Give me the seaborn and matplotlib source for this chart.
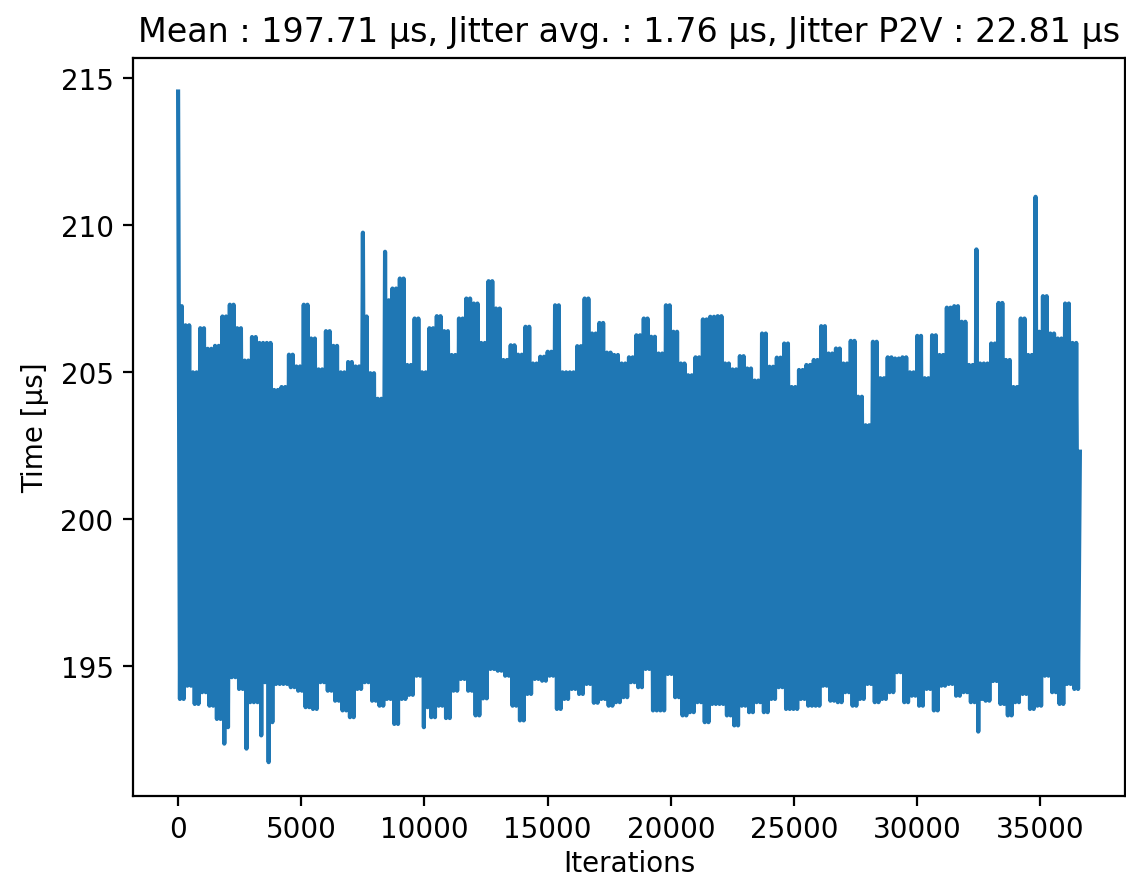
import numpy as np
import pandas as pd
import matplotlib
matplotlib.use("Agg")
import matplotlib.pyplot as plt
import seaborn as sns

# ---- data (per 300-iteration bin: upper / lower envelope) ----
bin_size = 300
n_iterations = 36600

upper = [207.25, 206.6, 205.0, 206.5, 205.8, 205.9, 206.9, 207.3, 206.5, 205.4,
         206.2, 206.0, 206.0, 204.4, 204.5, 205.6, 205.2, 207.3, 206.15, 205.1,
         206.4, 205.9, 205.0, 205.35, 205.2, 206.9, 204.97, 204.1, 207.45, 207.85,
         208.19, 205.25, 206.83, 205.0, 206.5, 206.91, 206.4, 205.59, 206.83, 207.51,
         207.34, 206.0, 208.1, 207.17, 205.42, 205.92, 205.6, 206.55, 205.3, 205.53,
         205.7, 207.28, 205.0, 205.0, 205.89, 207.51, 206.32, 206.68, 205.67, 205.59,
         205.3, 205.51, 206.26, 206.83, 206.21, 205.64, 207.28, 206.38, 205.3, 204.9,
         205.51, 206.8, 206.89, 206.91, 205.3, 205.1, 205.55, 205.13, 204.72, 206.32,
         205.19, 205.5, 205.98, 204.5, 205.08, 205.25, 205.42, 206.57, 205.64, 205.81,
         205.3, 206.07, 204.17, 203.2, 206.04, 204.8, 205.51, 205.47, 205.51, 205.0,
         206.24, 204.8, 206.26, 205.59, 207.2, 207.25, 206.72, 205.25, 205.3, 205.3,
         205.98, 207.36, 205.42, 204.5, 206.83, 205.59, 206.38, 207.59, 206.32, 206.15,
         207.34, 206.0]

lower = [193.89, 194.34, 193.72, 194.12, 193.66, 193.21, 192.93, 194.63, 194.23, 193.78,
         193.78, 194.46, 193.1, 194.4, 194.4, 194.29, 194.17, 193.61, 193.55, 194.46,
         194.17, 193.83, 193.5, 193.27, 194.23, 194.46, 193.83, 193.66, 193.89, 193.04,
         193.89, 194.03, 194.68, 193.61, 193.27, 193.66, 193.24, 194.17, 194.57, 194.17,
         193.33, 193.91, 194.91, 194.85, 194.68, 193.66, 193.16, 194.06, 194.57, 194.51,
         194.68, 193.55, 193.89, 194.23, 194.06, 194.4, 193.76, 193.89, 193.66, 193.78,
         193.95, 194.46, 194.29, 194.91, 193.5, 193.5, 194.74, 193.95, 193.33, 193.44,
         193.78, 193.1, 193.72, 193.72, 193.33, 192.99, 193.66, 193.44, 193.78, 193.44,
         193.89, 194.29, 193.55, 193.55, 193.89, 193.66, 193.66, 194.34, 193.83, 193.78,
         194.12, 193.66, 193.89, 194.4, 193.78, 193.89, 194.12, 194.8, 193.78, 194.0,
         193.66, 194.23, 193.5, 194.34, 194.4, 194.0, 194.12, 193.78, 193.89, 193.83,
         194.5, 193.72, 193.33, 193.78, 194.06, 193.55, 193.66, 194.68, 194.12, 193.72,
         194.4, 194.23]

# narrow spikes (bin index -> value)
spike_hi_bins = [0, 25, 28, 108, 116]
spike_hi_vals = [214.55, 209.75, 209.1, 209.18, 210.97]
spike_lo_bins = [6, 9, 11, 12, 33, 108]
spike_lo_vals = [192.37, 192.2, 192.65, 191.74, 192.93, 192.78]

last_value = 202.3

title = "Mean : 197.71 \u00b5s, Jitter avg. : 1.76 \u00b5s, Jitter P2V : 22.81 \u00b5s"
x_label = "Iterations"
y_label = "Time [\u00b5s]"

assert len(upper) == len(lower) == n_iterations // bin_size

# ---- build the sample series (upper/lower samples alternating inside each bin) ----
hi_a = list(upper)
lo_a = list(lower)
for b, v in zip(spike_hi_bins, spike_hi_vals):
    hi_a[b] = v
for b, v in zip(spike_lo_bins, spike_lo_vals):
    lo_a[b] = v

xs, ys = [], []
q = bin_size // 4
for k in range(len(upper)):
    base = k * bin_size
    xs += [base, base + q, base + 2 * q, base + 3 * q]
    ys += [hi_a[k], lo_a[k], upper[k], lower[k]]
xs.append(n_iterations)
ys.append(last_value)

df = pd.DataFrame({"Iterations": xs, "Time": ys})

# ---- figure ----
W, H, DPI = 1126, 879, 200
fig = plt.figure(figsize=(W / DPI, H / DPI), dpi=DPI)
ax = fig.add_axes([133 / W, 82.3 / H, 992 / W, 737.7 / H])

sns.lineplot(data=df, x="Iterations", y="Time", ax=ax, estimator=None,
             sort=False, color="#1f77b4", linewidth=1.5)

ax.set_xlabel(x_label, labelpad=2)
ax.set_ylabel(y_label)
ax.set_title(title)
ax.set_xticks([0, 5000, 10000, 15000, 20000, 25000, 30000, 35000])
ax.set_yticks([195, 200, 205, 210, 215])

fig.savefig("out.png", dpi=DPI)
